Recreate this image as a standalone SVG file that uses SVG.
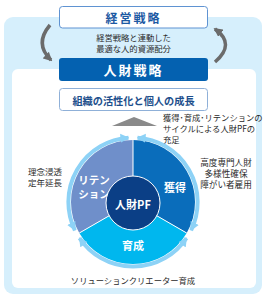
<svg xmlns="http://www.w3.org/2000/svg" width="267" height="300" viewBox="0 0 267 300">
<style>
text{font-family:"Noto Sans CJK JP","Noto Sans",sans-serif;text-anchor:middle;dominant-baseline:central}
.s{font-size:8.3px;fill:#2a2a2a}
.w{fill:#fff;font-weight:bold}
.ring{fill:none;stroke:#8dd2f6;stroke-width:4}
.sep{stroke:#fff;stroke-width:1}
</style>
<defs>
<marker id="ga" viewBox="0 0 10 10" refX="8" refY="5" markerWidth="9" markerHeight="9" markerUnits="userSpaceOnUse" orient="auto"><path d="M0,0 L10,5 L0,10 Z" fill="#6b6b6b"/></marker>
<marker id="ra" viewBox="0 0 10 10" refX="9" refY="5" markerWidth="9" markerHeight="10" markerUnits="userSpaceOnUse" orient="auto-start-reverse"><path d="M0,0 L10,5 L0,10 Z" fill="#8dd2f6"/></marker>
</defs>
<g id="panel">
<rect x="4" y="17" width="258" height="277" rx="9" fill="#d6effc"/>
<rect x="12" y="69" width="244" height="219" rx="6" fill="#fff"/>
</g>
<g id="connectors">
<path d="M50,25 Q34,44 51,60" fill="none" stroke="#6b6b6b" stroke-width="3.5" marker-end="url(#ga)"/>
<path d="M215,62 Q236,44 215,29" fill="none" stroke="#6b6b6b" stroke-width="3.5" marker-end="url(#ga)"/>
<polygon points="112,126 157,126 134,117" fill="#8a8a8a"/>
</g>
<g id="keiei">
<rect x="59.5" y="6.5" width="148" height="21.5" rx="3" fill="#fff" stroke="#5f93d2" stroke-width="1"/>
<text x="133.5" y="17.5" style="font-size:12px;font-weight:bold;fill:#1d5aa3;letter-spacing:2px">経営戦略</text>
</g>
<text class="s" x="133.5" y="37">経営戦略と連動した</text>
<text class="s" x="133.5" y="48">最適な人的資源配分</text>
<g id="jinzai">
<rect x="59" y="58" width="149" height="23" rx="3" fill="#0461b0"/>
<text class="w" x="133.5" y="69.5" style="font-size:13px;letter-spacing:2px">人財戦略</text>
</g>
<g id="soshiki">
<rect x="59.5" y="88.5" width="148" height="22" rx="3" fill="#fff" stroke="#8fb0d8" stroke-width="1"/>
<text x="133.5" y="100" style="font-size:10.2px;font-weight:bold;fill:#1d4f8c">組織の活性化と個人の成長</text>
</g>
<g id="cycle-note">
<text class="s" x="163" y="117" style="text-anchor:start">獲得･育成･リテンションの</text>
<text class="s" x="163" y="128" style="text-anchor:start">サイクルによる人財PFの</text>
<text class="s" x="163" y="139" style="text-anchor:start">充足</text>
</g>
<g id="cycle">
<path id="retention" d="M133,202 L79.3,233 A62,62 0 0 1 133,140 Z" fill="#6f8fca"/>
<path id="kakutoku" d="M133,202 L133,140 A62,62 0 0 1 186.7,233 Z" fill="#0a6dbb"/>
<path id="ikusei" d="M133,202 L186.7,233 A62,62 0 0 1 79.3,233 Z" fill="#00b7ee"/>
<line class="sep" x1="133" y1="202" x2="133" y2="140"/>
<line class="sep" x1="133" y1="202" x2="79.3" y2="233"/>
<line class="sep" x1="133" y1="202" x2="186.7" y2="233"/>
<path class="ring" d="M74.9,230.3 A64.5,64.5 0 0 1 128.5,137.7" marker-start="url(#ra)" marker-end="url(#ra)"/>
<path class="ring" d="M137.5,137.7 A64.5,64.5 0 0 1 191.1,230.3" marker-start="url(#ra)" marker-end="url(#ra)"/>
<path class="ring" d="M186.5,238.1 A64.5,64.5 0 0 1 79.5,238.1" marker-start="url(#ra)" marker-end="url(#ra)"/>
<text class="w" x="94" y="179" style="font-size:10.5px">リテン</text>
<text class="w" x="94" y="193" style="font-size:10.5px">ション</text>
<text class="w" x="175" y="187" style="font-size:11px">獲得</text>
<text class="w" x="133" y="245" style="font-size:11px">育成</text>
</g>
<g id="pf">
<circle cx="133" cy="203" r="27" fill="#0b3f86" stroke="#fff" stroke-width="1"/>
<text class="w" x="133" y="204" style="font-size:11px">人財PF</text>
</g>
<g id="left-note">
<text class="s" x="45" y="171" style="font-size:8.5px">理念浸透</text>
<text class="s" x="45" y="182" style="font-size:8.5px">定年延長</text>
</g>
<g id="right-note">
<text class="s" x="226" y="162" style="font-size:8.6px">高度専門人財</text>
<text class="s" x="226" y="173" style="font-size:8.6px">多様性確保</text>
<text class="s" x="226" y="184" style="font-size:8.6px">障がい者雇用</text>
</g>
<text class="s" x="133" y="280">ソリューションクリエーター育成</text>
</svg>
